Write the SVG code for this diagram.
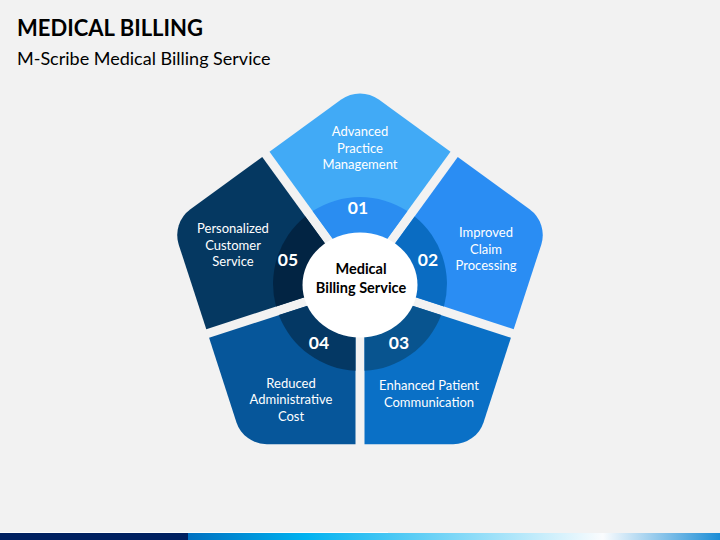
<svg xmlns="http://www.w3.org/2000/svg" width="720" height="540" viewBox="0 0 720 540">
  <style>
    .t { font-family: Lato, "Open Sans", "Liberation Sans", sans-serif; }
    .title { font-size: 22px; font-weight: 700; fill: #000; }
    .sub { font-size: 18px; fill: #000; }
    .lbl { font-size: 13px; fill: #fff; text-anchor: middle; }
    .num { font-size: 17.5px; font-weight: 700; fill: #fff; text-anchor: middle; }
    .ctr { font-size: 14.5px; font-weight: 700; fill: #000; text-anchor: middle; }
  </style>
  <defs>
    <path id="seg" d="M 360 276.3 L 269.5 151.8 L 341.2 99.6 A 32 32 0 0 1 378.8 99.6 L 450.5 151.8 Z"/>
    <path id="ring" d="M 360 276.3 L 312.6 211.1 A 87 87 0 0 1 407.4 211.1 Z"/>
    <linearGradient id="barGrad" x1="0" y1="0" x2="1" y2="0">
      <stop offset="0" stop-color="#0070C0"/>
      <stop offset="0.22" stop-color="#00B2F0"/>
      <stop offset="0.78" stop-color="#FAFCFE"/>
      <stop offset="1" stop-color="#1B8DD6"/>
    </linearGradient>
  </defs>
  <rect x="0" y="0" width="720" height="540" fill="#F2F2F2"/>

  <text class="t title" x="17" y="36">MEDICAL BILLING</text>
  <text class="t sub" x="17" y="65">M-Scribe Medical Billing Service</text>

  <g id="node-01">
    <use href="#seg" fill="#41AAF6"/>
    <use href="#ring" fill="#2A8DF1"/>
    <text class="t lbl" x="360" y="136">Advanced</text>
    <text class="t lbl" x="360" y="153">Practice</text>
    <text class="t lbl" x="360" y="169">Management</text>
    <text class="t num" x="358" y="214">01</text>
  </g>
  <g id="node-02">
    <use href="#seg" fill="#2A8DF3" transform="rotate(72 360 284)"/>
    <use href="#ring" fill="#0A6CC2" transform="rotate(72 360 284)"/>
    <text class="t lbl" x="486" y="237">Improved</text>
    <text class="t lbl" x="486" y="254">Claim</text>
    <text class="t lbl" x="486" y="270">Processing</text>
    <text class="t num" x="428" y="266">02</text>
  </g>
  <g id="node-03">
    <use href="#seg" fill="#0A70C6" transform="rotate(144 360 284)"/>
    <use href="#ring" fill="#08548F" transform="rotate(144 360 284)"/>
    <text class="t lbl" x="429" y="390">Enhanced Patient</text>
    <text class="t lbl" x="429" y="407">Communication</text>
    <text class="t num" x="399" y="349">03</text>
  </g>
  <g id="node-04">
    <use href="#seg" fill="#06569A" transform="rotate(216 360 284)"/>
    <use href="#ring" fill="#043864" transform="rotate(216 360 284)"/>
    <text class="t lbl" x="291" y="388">Reduced</text>
    <text class="t lbl" x="291" y="404">Administrative</text>
    <text class="t lbl" x="291" y="421">Cost</text>
    <text class="t num" x="319" y="349">04</text>
  </g>
  <g id="node-05">
    <use href="#seg" fill="#053861" transform="rotate(288 360 284)"/>
    <use href="#ring" fill="#022443" transform="rotate(288 360 284)"/>
    <text class="t lbl" x="233" y="233">Personalized</text>
    <text class="t lbl" x="233" y="250">Customer</text>
    <text class="t lbl" x="233" y="266">Service</text>
    <text class="t num" x="288" y="266">05</text>
  </g>
  <g id="node-center">
    <ellipse cx="360" cy="285" rx="57.5" ry="52.5" fill="#FFFFFF"/>
    <text class="t ctr" x="361" y="274">Medical</text>
    <text class="t ctr" x="361" y="293">Billing Service</text>
  </g>
  <g id="connectors"/>

  <rect x="0" y="532" width="388" height="1" fill="#FFFFFF" opacity="0.8"/>
  <rect x="0" y="533" width="188" height="7" fill="#002060"/>
  <rect x="188" y="533" width="532" height="7" fill="url(#barGrad)"/>
</svg>
